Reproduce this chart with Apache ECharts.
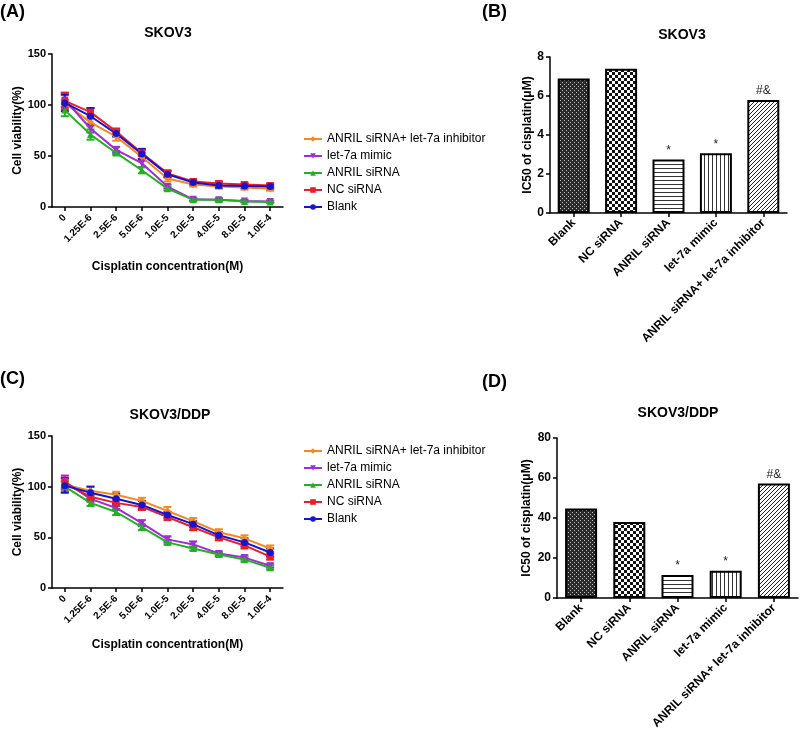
<!DOCTYPE html>
<html><head><meta charset="utf-8">
<script src="https://cdn.jsdelivr.net/npm/echarts@6/dist/echarts.min.js"></script>
<style>html,body{margin:0;padding:0;background:#fff}#c{width:800px;height:733px}</style>
</head><body><div id="c"></div>
<script>
// ---------- data ----------
const concLabels = ['0','1.25E-6','2.5E-6','5.0E-6','1.0E-5','2.0E-5','4.0E-5','8.0E-5','1.0E-4'];
const groupNames = ['ANRIL siRNA+ let-7a inhibitor','let-7a mimic','ANRIL siRNA','NC siRNA','Blank'];
const groupColors = ['#F5891F','#A12DD8','#23B123','#EE1C24','#1414D2'];
const groupSymbols = ['diamond','triangle','triangle','rect','circle'];
const groupSymbolRotate = [0,180,0,0,0];

// Panel A: SKOV3 cell viability (%)
const skov3_inhib  = [102, 83, 69, 49, 28, 22, 20, 19, 18];
const skov3_mimic  = [105, 77, 56, 43, 20, 7.5, 7, 6, 5.5];
const skov3_anril  = [95, 71, 53, 36, 18, 7, 7, 5.5, 5];
const skov3_nc     = [104, 93, 74, 53, 33, 25, 23, 22, 21];
const skov3_blank  = [102, 89, 72, 52, 32, 24, 21, 20.5, 20];
const skov3_inhibErr = [3, 4, 4, 4, 3, 2, 2, 2, 2];
const skov3_mimicErr = [7, 4, 3, 4, 2, 1.5, 1.5, 1, 1];
const skov3_anrilErr = [6, 5, 2, 3, 2, 1.5, 1.5, 1, 1];
const skov3_ncErr    = [8, 4, 3, 3, 3, 2, 2, 2, 2];
const skov3_blankErr = [8, 8, 3, 5, 3, 2, 2, 2, 2];

// Panel C: SKOV3/DDP cell viability (%)
const ddp_inhib  = [102, 96, 92, 86, 76, 66, 55, 49, 39];
const ddp_mimic  = [105, 88, 79, 64, 48, 43, 34, 30, 22];
const ddp_anril  = [100, 84, 75, 60, 45, 39, 33, 28, 20];
const ddp_nc     = [103, 90, 84, 80, 70, 60, 50, 42, 31];
const ddp_blank  = [101, 94, 88, 82, 72, 63, 52, 45, 35];
const ddp_inhibErr = [4, 4, 3, 3, 4, 3, 3, 3, 3];
const ddp_mimicErr = [6, 3, 2, 3, 3, 3, 2, 2, 2];
const ddp_anrilErr = [5, 3, 3, 3, 2, 2, 2, 2, 2];
const ddp_ncErr    = [6, 3, 3, 3, 3, 3, 3, 3, 3];
const ddp_blankErr = [7, 6, 5, 4, 3, 3, 3, 4, 4];

// Panels B, D: IC50 (uM)
const barCategories = ['Blank','NC siRNA','ANRIL siRNA','let-7a mimic','ANRIL siRNA+ let-7a inhibitor'];
const ic50_skov3 = [6.9, 7.4, 2.75, 3.06, 5.8];
const ic50_ddp   = [44.7, 38, 11.5, 13.6, 57.2];
const sigMarks   = ['', '', '*', '*', '#&'];

// ---------- helpers ----------
const FONT = '"Liberation Sans", Arial, Helvetica, sans-serif';

function makePattern(kind) {
  const c = document.createElement('canvas');
  let w = 4, h = 4;
  if (kind === 'check') { w = 6; h = 6; }
  c.width = w; c.height = h;
  const g = c.getContext('2d');
  g.fillStyle = '#fff'; g.fillRect(0, 0, w, h);
  g.fillStyle = '#111'; g.strokeStyle = '#222';
  if (kind === 'dense') {
    g.fillStyle = '#2a2a2a'; g.fillRect(0, 0, w, h);
    g.fillStyle = '#c0c0c0'; g.fillRect(0, 0, 1, 1); g.fillRect(2, 2, 1, 1);
  } else if (kind === 'check') {
    g.fillRect(0, 0, 3, 3); g.fillRect(3, 3, 3, 3);
  } else if (kind === 'hline') {
    g.fillStyle = '#333'; g.fillRect(0, 0, w, 1);
  } else if (kind === 'vline') {
    g.fillStyle = '#333'; g.fillRect(0, 0, 1, h);
  } else if (kind === 'diag') {
    g.lineWidth = 1;
    g.beginPath();
    g.moveTo(-1, 5); g.lineTo(5, -1);
    g.moveTo(-1, 1); g.lineTo(1, -1);
    g.moveTo(3, 5); g.lineTo(5, 3);
    g.stroke();
  }
  return { image: c, repeat: 'repeat' };
}
const patterns = ['dense', 'check', 'hline', 'vline', 'diag'].map(makePattern);

function lineSeries(idx, values, axisIdx) {
  return {
    type: 'line', name: groupNames[idx], xAxisIndex: axisIdx, yAxisIndex: axisIdx,
    data: values, symbol: groupSymbols[idx], symbolRotate: groupSymbolRotate[idx],
    symbolSize: 7, lineStyle: { color: groupColors[idx], width: 2 },
    itemStyle: { color: groupColors[idx] }, z: 2, animation: false
  };
}
function errSeries(idx, means, errs, axisIdx) {
  const color = groupColors[idx];
  return {
    type: 'custom', name: groupNames[idx], xAxisIndex: axisIdx, yAxisIndex: axisIdx,
    data: means.map((m, i) => [i, m - errs[i], m + errs[i]]),
    encode: { x: 0, y: [1, 2] }, silent: true, z: 2, animation: false,
    renderItem(params, api) {
      const i = api.value(0);
      const lo = api.coord([i, api.value(1)]);
      const hi = api.coord([i, api.value(2)]);
      const w = 4, st = { stroke: color, lineWidth: 2 };
      return { type: 'group', children: [
        { type: 'line', shape: { x1: lo[0], y1: lo[1], x2: hi[0], y2: hi[1] }, style: st },
        { type: 'line', shape: { x1: lo[0] - w, y1: lo[1], x2: lo[0] + w, y2: lo[1] }, style: st },
        { type: 'line', shape: { x1: hi[0] - w, y1: hi[1], x2: hi[0] + w, y2: hi[1] }, style: st }
      ]};
    }
  };
}
function barSeries(values, axisIdx) {
  return {
    type: 'bar', xAxisIndex: axisIdx, yAxisIndex: axisIdx, barWidth: 32, animation: false,
    data: values.map((v, i) => ({ value: v, itemStyle: { color: patterns[i] } })),
    itemStyle: { borderColor: '#000', borderWidth: 2 },
    label: { show: true, position: 'top', distance: 3, color: '#222', fontSize: 12, fontFamily: FONT,
      formatter: p => sigMarks[p.dataIndex] }
  };
}

const axisLine = { show: true, lineStyle: { color: '#000', width: 1.5 } };
const axisTick = { show: true, length: 4, lineStyle: { color: '#000', width: 1.5 } };

function catAxis(grid, labels, fontSize, margin, name, nameGap) {
  return {
    type: 'category', gridIndex: grid, data: labels, boundaryGap: true,
    axisLine, axisTick: Object.assign({ alignWithLabel: true }, axisTick),
    axisLabel: { rotate: 45, interval: 0, fontSize, fontWeight: 'bold', color: '#000', fontFamily: FONT, margin },
    name, nameLocation: 'middle', nameGap,
    nameTextStyle: { fontSize: 12, fontWeight: 'bold', color: '#000', fontFamily: FONT },
    splitLine: { show: false }
  };
}
function valAxis(grid, max, interval, fontSize, name, nameGap) {
  return {
    type: 'value', gridIndex: grid, min: 0, max, interval,
    axisLine, axisTick,
    axisLabel: { fontSize, fontWeight: 'bold', color: '#000', fontFamily: FONT, margin: 6 },
    splitLine: { show: false },
    name, nameLocation: 'middle', nameGap,
    nameTextStyle: { fontSize: 12, fontWeight: 'bold', color: '#000', fontFamily: FONT }
  };
}
function legend(top) {
  return {
    data: groupNames, orient: 'vertical', left: 298, top, itemWidth: 18, itemHeight: 7, itemGap: 3,
    textStyle: { fontSize: 12, color: '#000', fontFamily: FONT, lineHeight: 14 }
  };
}
function txt(text, x, y, size, align) {
  return { type: 'text', x, y, style: { text, fontSize: size, fontWeight: 'bold', fontFamily: FONT,
    fill: '#000', align: align || 'center', verticalAlign: 'middle' } };
}

const chart = echarts.init(document.getElementById('c'), null, { renderer: 'canvas' });
chart.setOption({
  backgroundColor: '#fff',
  animation: false,
  graphic: [
    txt('(A)', 0, 12, 18, 'left'), txt('(B)', 482, 12, 18, 'left'),
    txt('(C)', 0, 379, 18, 'left'), txt('(D)', 482, 382, 18, 'left'),
    txt('SKOV3', 168, 33, 14), txt('SKOV3', 682, 35, 14),
    txt('SKOV3/DDP', 170, 415, 14), txt('SKOV3/DDP', 678, 413, 14)
  ],
  legend: [legend(127), legend(439)],
  grid: [
    { left: 52, top: 54, width: 231, height: 153 },
    { left: 550, top: 57, width: 237, height: 156 },
    { left: 52, top: 436, width: 231, height: 152 },
    { left: 557, top: 438, width: 241, height: 160 }
  ],
  xAxis: [
    catAxis(0, concLabels, 10, 9, 'Cisplatin concentration(M)', 54),
    catAxis(1, barCategories, 12, 8, '', 0),
    catAxis(2, concLabels, 10, 9, 'Cisplatin concentration(M)', 51),
    catAxis(3, barCategories, 12, 8, '', 0)
  ],
  yAxis: [
    valAxis(0, 150, 50, 11, 'Cell viability(%)', 24),
    valAxis(1, 8, 2, 12, 'IC50 of cisplatin(μM)', 16),
    valAxis(2, 150, 50, 11, 'Cell viability(%)', 24),
    valAxis(3, 80, 20, 12, 'IC50 of cisplatin(μM)', 24)
  ],
  series: [
    lineSeries(0, skov3_inhib, 0), errSeries(0, skov3_inhib, skov3_inhibErr, 0),
    lineSeries(1, skov3_mimic, 0), errSeries(1, skov3_mimic, skov3_mimicErr, 0),
    lineSeries(2, skov3_anril, 0), errSeries(2, skov3_anril, skov3_anrilErr, 0),
    lineSeries(3, skov3_nc, 0),    errSeries(3, skov3_nc, skov3_ncErr, 0),
    lineSeries(4, skov3_blank, 0), errSeries(4, skov3_blank, skov3_blankErr, 0),
    lineSeries(0, ddp_inhib, 2), errSeries(0, ddp_inhib, ddp_inhibErr, 2),
    lineSeries(1, ddp_mimic, 2), errSeries(1, ddp_mimic, ddp_mimicErr, 2),
    lineSeries(2, ddp_anril, 2), errSeries(2, ddp_anril, ddp_anrilErr, 2),
    lineSeries(3, ddp_nc, 2),    errSeries(3, ddp_nc, ddp_ncErr, 2),
    lineSeries(4, ddp_blank, 2), errSeries(4, ddp_blank, ddp_blankErr, 2),
    barSeries(ic50_skov3, 1),
    barSeries(ic50_ddp, 3)
  ]
});
</script>
</body></html>
